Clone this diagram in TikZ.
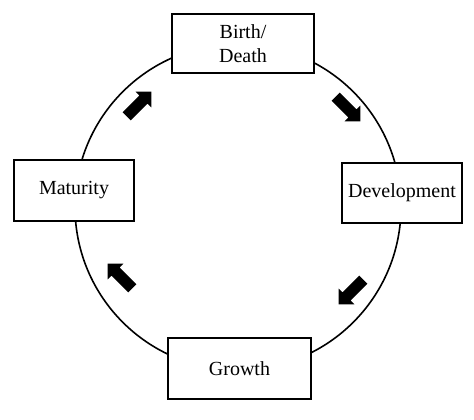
\documentclass[tikz,border=0pt]{standalone}
\usepackage{fontspec}
\setmainfont{Liberation Serif}
\usetikzlibrary{shapes.arrows}
\begin{document}
\begin{tikzpicture}[x=1pt,y=-1pt,
  stage/.style={draw=black, line width=1.8pt, fill=white, inner sep=0pt, align=center, font=\fontsize{20}{24}\selectfont},
  flow/.style={single arrow, fill=black, inner sep=5.5pt, single arrow head extend=5.5pt, minimum height=35pt, single arrow tip angle=90}]
\useasboundingbox (0,0) rectangle (474,420);
\draw[line width=1.6pt] (238,207) circle[radius=163];
\node[stage, minimum width=142pt, minimum height=59pt] (birth) at (243,43.5) {Birth/\\Death};
\node[stage, minimum width=120pt, minimum height=61pt] (maturity) at (74,190.5) {Maturity};
\node[stage, minimum width=120pt, minimum height=60pt] (development) at (402,193) {Development};
\node[stage, minimum width=143pt, minimum height=61pt] (growth) at (239.5,368.5) {Growth};
\node[flow, rotate=45] (a1) at (137,106) {};
\node[flow, rotate=-45] (a2) at (346,107) {};
\node[flow, rotate=-135] (a3) at (353,290) {};
\node[flow, rotate=135] (a4) at (122,278) {};
\end{tikzpicture}
\end{document}
